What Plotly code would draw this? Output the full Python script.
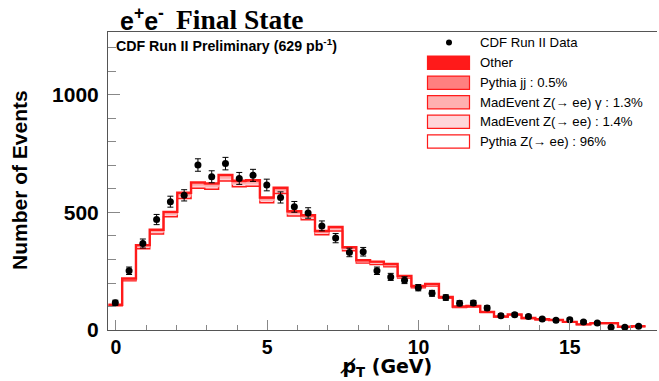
import numpy as np
import plotly.graph_objects as go

# ---------------- data ----------------
BIN_LO, BIN_HI, N_BINS = -0.25, 17.5, 39

data_counts = [116, 252, 368, 470, 546, 573, 702, 652, 708, 645, 658, 617, 564,
               524, 498, 443, 391, 330, 333, 252, 226, 212, 180, 156, 138, 114,
               115, 94, 61, 65, 57, 47, 41, 44, 34, 30, 12, 12, 16]

pythia_z = [103, 210, 346, 409, 482, 560, 603, 599, 634, 610, 612, 541, 581,
            485, 469, 405, 421, 337, 285, 279, 269, 221, 180, 187, 135, 96,
            98, 74, 55, 64, 49, 44, 41, 33, 23, 28, 28, 13.4, 15.4]
madevent_z = [1.5, 3, 5, 6, 7, 8, 9, 9, 9, 9, 9, 8, 8, 7, 7, 6, 6, 5, 4, 4, 4, 3,
              3, 3, 2, 1.4, 1.4, 1.1, 0.8, 0.9, 0.7, 0.6, 0.6, 0.5, 0.3, 0.4,
              0.4, 0.2, 0.2]
madevent_zg = [1.4, 3, 5, 6, 7, 8, 8, 8, 9, 8, 8, 7, 8, 7, 6, 5, 6, 5, 4, 4, 4, 3,
               2, 3, 2, 1.3, 1.3, 1, 0.7, 0.9, 0.7, 0.6, 0.6, 0.4, 0.3, 0.4, 0.4,
               0.2, 0.2]
pythia_jj = [0.5, 1, 2, 2, 2.5, 3, 3, 3, 3, 3, 3, 3, 3, 2.5, 2.5, 2, 2, 2, 1.5,
             1.5, 1.4, 1.2, 0.9, 1, 0.7, 0.5, 0.5, 0.4, 0.3, 0.3, 0.3, 0.2, 0.2,
             0.2, 0.1, 0.1, 0.1, 0.1, 0.1]
other = [1, 2, 3, 3.5, 4, 5, 5, 5, 5, 5, 5, 4.5, 5, 4, 4, 3.5, 3.5, 3, 2.5, 2.5,
         2.2, 1.8, 1.5, 1.6, 1.1, 0.8, 0.8, 0.6, 0.5, 0.5, 0.4, 0.4, 0.3, 0.3,
         0.2, 0.2, 0.2, 0.1, 0.1]

x_tickvals = [0, 5, 10, 15]
y_tickvals = [0, 500, 1000]

legend_labels = ["CDF Run II Data", "Other", "Pythia jj : 0.5%",
                 "MadEvent Z(\u2192 ee) \u03b3 : 1.3%",
                 "MadEvent Z(\u2192 ee) : 1.4%",
                 "Pythia Z(\u2192 ee) : 96%"]

# ---------------- geometry ----------------
W, H = 659, 381
L, R, T, B = 108, 2, 32, 51
PW, PH = W - L - R, H - T - B


def px(x):
    return (x - L) / PW


def py(y):
    return (H - B - y) / PH


edges = np.linspace(BIN_LO, BIN_HI, N_BINS + 1)
centers = 0.5 * (edges[:-1] + edges[1:])

RED = "#ff1a1a"
components = [
    (pythia_z, "white", RED, 1.5),
    (madevent_z, "#ffd6da", "#ffc0c4", 0.6),
    (madevent_zg, "#ffb0b0", "#ff9d9d", 0.6),
    (pythia_jj, "#ff8080", "#ff7070", 0.6),
    (other, RED, RED, 2.4),
]

fig = go.Figure()
cum = np.zeros(N_BINS)
for i, (vals, fill, lcol, lw) in enumerate(components):
    cum = cum + np.array(vals, dtype=float)
    fig.add_trace(go.Scatter(
        x=edges, y=np.append(cum, cum[-1]), mode="lines",
        line=dict(shape="hv", color=lcol, width=lw),
        fill="tozeroy" if i == 0 else "tonexty", fillcolor=fill,
        showlegend=False, hoverinfo="skip"))

fig.add_trace(go.Scatter(
    x=centers, y=data_counts, mode="markers",
    marker=dict(color="black", size=7),
    error_y=dict(type="data", array=np.sqrt(data_counts), color="black",
                 thickness=1, width=3),
    showlegend=False))

AX = "#555555"
fig.update_layout(
    width=W, height=H, margin=dict(l=L, r=R, t=T, b=B),
    paper_bgcolor="white", plot_bgcolor="white",
    font=dict(family="Liberation Sans, Arial, sans-serif", color="black"),
    xaxis=dict(range=[-0.264, 17.88], tickvals=x_tickvals, showgrid=False,
               zeroline=False, showline=True, linecolor=AX, linewidth=1,
               mirror=True, ticks="inside", ticklen=10, tickcolor="#888",
               tickfont=dict(size=19.5, family="Liberation Sans", weight="bold"),
               minor=dict(dtick=1, ticks="inside", ticklen=5, tickcolor="#888"),
               ticklabelstandoff=0),
    yaxis=dict(range=[0, 1268], tickvals=y_tickvals, showgrid=False,
               zeroline=False, showline=True, linecolor=AX, linewidth=1,
               ticks="inside", ticklen=12, tickcolor="#888",
               tickfont=dict(size=21, family="Liberation Sans", weight="bold"),
               minor=dict(dtick=100, ticks="inside", ticklen=8, tickcolor="#888"),
               ticklabelstandoff=4),
)

ann = []
# title
ann.append(dict(x=px(118), y=py(19), xref="paper", yref="paper", xanchor="left",
                yanchor="middle", showarrow=False,
                text="<b>e<sup>+</sup>e<sup>-</sup></b>",
                font=dict(family="Liberation Sans", size=25, color="black")))
ann.append(dict(x=px(174), y=py(19), xref="paper", yref="paper", xanchor="left",
                yanchor="middle", showarrow=False, text="<b>Final State</b>",
                font=dict(family="Liberation Serif", size=27.5, color="black")))
ann.append(dict(x=px(114), y=py(45), xref="paper", yref="paper", xanchor="left",
                yanchor="middle", showarrow=False,
                text="<b>CDF Run II Preliminary (629 pb<sup>-1</sup>)</b>",
                font=dict(family="Liberation Sans", size=14.2, color="black")))
# axis titles
ann.append(dict(x=px(20), y=py(180), xref="paper", yref="paper", xanchor="center",
                yanchor="middle", showarrow=False, textangle=-90,
                text="<b>Number of Events</b>",
                font=dict(family="Liberation Sans", size=21, color="black")))
ann.append(dict(x=px(386), y=py(367.5), xref="paper", yref="paper", xanchor="center",
                yanchor="middle", showarrow=False, borderpad=0,
                text="<b>p\u0338<sub>T</sub> (GeV)</b>",
                font=dict(family="DejaVu Sans", size=19, color="black")))

# legend
shapes = []
rows_y = [42.5, 62.7, 82.7, 102.3, 121.8, 141.5]
box_fills = [RED, "#ff8080", "#ffb0b0", "#ffd6da", "white"]
for k, (lab, yy) in enumerate(zip(legend_labels, rows_y)):
    ann.append(dict(x=px(478), y=py(yy), xref="paper", yref="paper",
                    xanchor="left", yanchor="middle", showarrow=False, text=lab,
                    font=dict(family="Liberation Sans", size=13.2, color="black")))
    if k == 0:
        shapes.append(dict(type="circle", xref="paper", yref="paper",
                           x0=px(446), x1=px(452), y0=py(yy + 3), y1=py(yy - 3),
                           fillcolor="black", line=dict(width=0)))
    else:
        shapes.append(dict(type="rect", xref="paper", yref="paper",
                           x0=px(427.5), x1=px(469.5), y0=py(yy + 6.6),
                           y1=py(yy - 6.6), fillcolor=box_fills[k - 1],
                           line=dict(color=RED, width=1.2)))

fig.update_layout(annotations=ann, shapes=shapes)
fig.write_html("out.html", config={"displayModeBar": False})

# remove the default page margin so the figure sits at the window's top-left
with open("out.html", encoding="utf-8") as f:
    html = f.read()
html = html.replace("<head>", "<head><style>html,body{margin:0;padding:0;overflow:hidden;}</style>", 1)
with open("out.html", "w", encoding="utf-8") as f:
    f.write(html)
